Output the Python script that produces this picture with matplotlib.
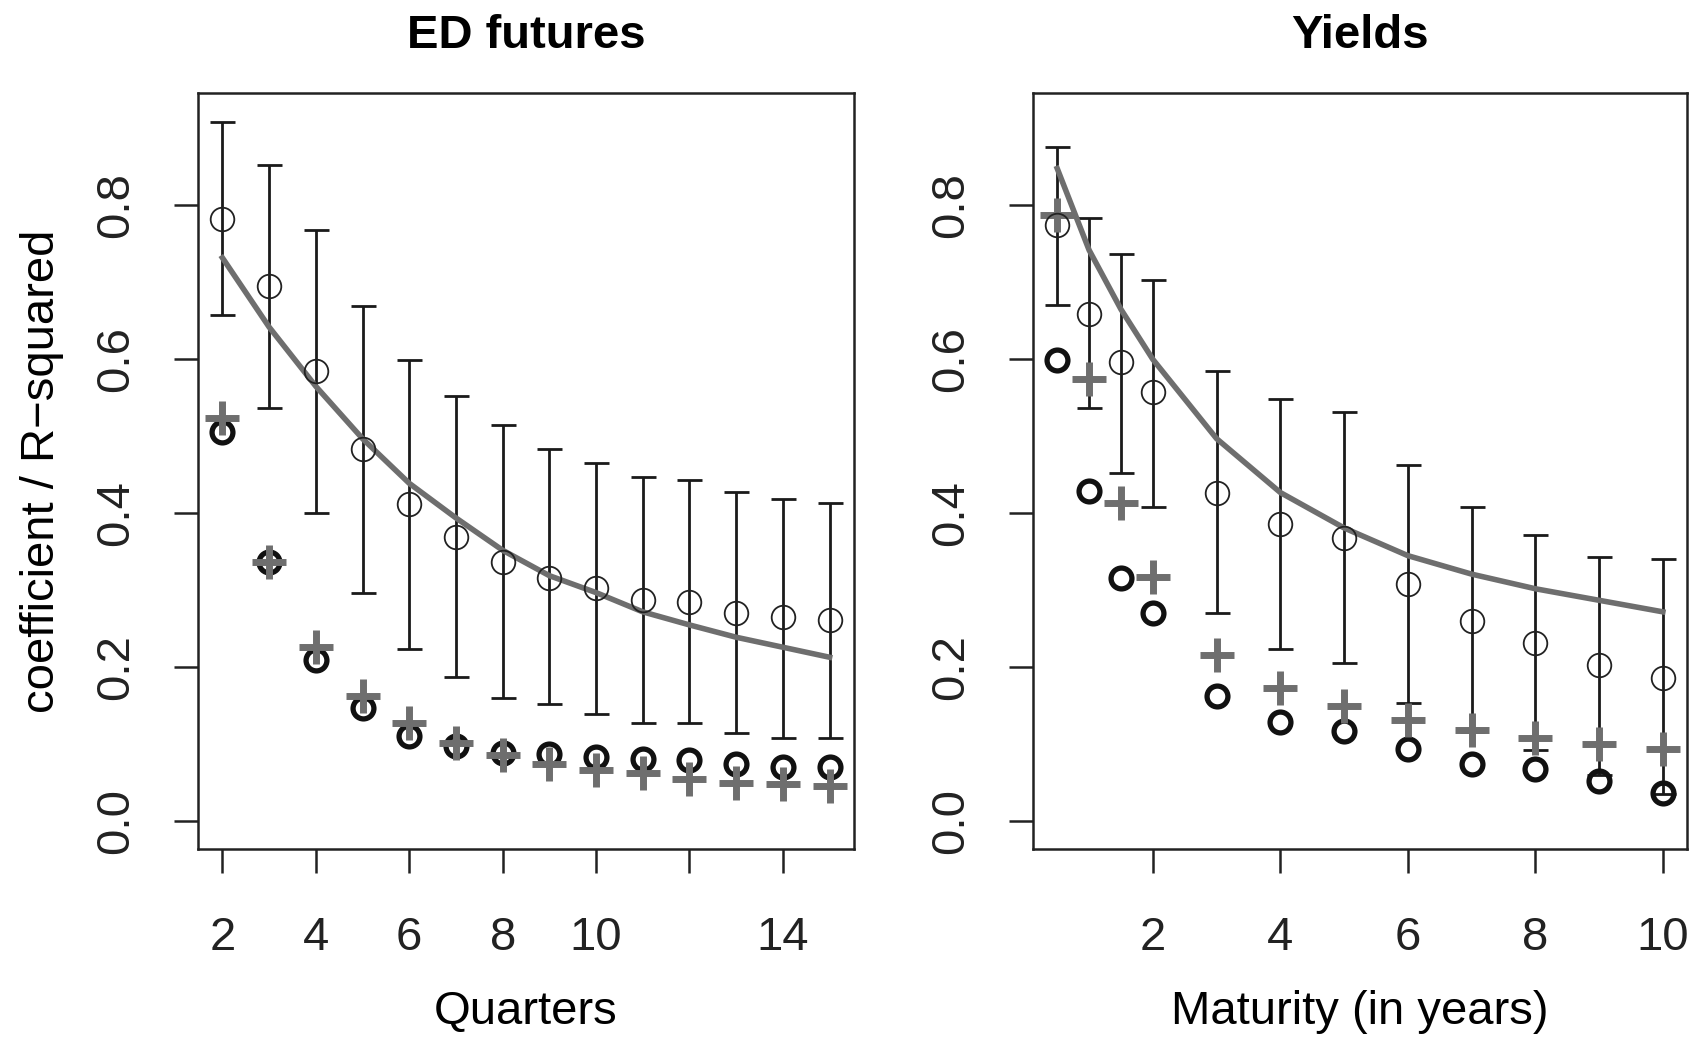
import matplotlib
matplotlib.use("Agg")
import matplotlib.pyplot as plt

plt.rcParams['font.family'] = ['Liberation Sans', 'DejaVu Sans']

# ED futures panel (x = quarters)
quarters = [2, 3, 4, 5, 6, 7, 8, 9, 10, 11, 12, 13, 14, 15]
ed_coef = [0.783, 0.695, 0.585, 0.484, 0.412, 0.369, 0.337, 0.316, 0.303, 0.287, 0.285, 0.271, 0.265, 0.261]
ed_upper = [0.908, 0.852, 0.768, 0.669, 0.599, 0.552, 0.515, 0.484, 0.465, 0.447, 0.443, 0.428, 0.419, 0.414]
ed_lower = [0.658, 0.537, 0.400, 0.297, 0.224, 0.187, 0.160, 0.152, 0.139, 0.127, 0.127, 0.115, 0.108, 0.108]
ed_fit = [0.732, 0.642, 0.565, 0.497, 0.439, 0.394, 0.352, 0.319, 0.297, 0.272, 0.255, 0.239, 0.226, 0.213]
ed_r2_circle = [0.506, 0.337, 0.210, 0.147, 0.111, 0.098, 0.089, 0.087, 0.083, 0.081, 0.079, 0.074, 0.071, 0.070]
ed_r2_plus = [0.524, 0.337, 0.226, 0.163, 0.127, 0.101, 0.086, 0.074, 0.066, 0.063, 0.055, 0.050, 0.048, 0.046]

# Yields panel (x = maturity in years)
maturity = [0.5, 1, 1.5, 2, 3, 4, 5, 6, 7, 8, 9, 10]
yl_coef = [0.774, 0.659, 0.597, 0.557, 0.427, 0.386, 0.368, 0.308, 0.260, 0.231, 0.203, 0.186]
yl_upper = [0.876, 0.784, 0.737, 0.703, 0.585, 0.548, 0.532, 0.463, 0.408, 0.372, 0.343, 0.341]
yl_lower = [0.671, 0.537, 0.453, 0.408, 0.270, 0.224, 0.205, 0.154, 0.116, 0.092, 0.060, 0.036]
yl_fit = [0.848, 0.742, 0.665, 0.600, 0.497, 0.427, 0.381, 0.345, 0.321, 0.302, 0.287, 0.272]
yl_r2_circle = [0.599, 0.429, 0.316, 0.271, 0.163, 0.129, 0.117, 0.094, 0.074, 0.068, 0.052, 0.037]
yl_r2_plus = [0.787, 0.575, 0.414, 0.317, 0.216, 0.173, 0.150, 0.132, 0.119, 0.108, 0.100, 0.094]

GRAY = '#6e6e6e'
FS = 34

fig = plt.figure(figsize=(16.99, 10.42), dpi=100)
ax1 = fig.add_axes([0.1166, 0.185, 0.386, 0.726])
ax2 = fig.add_axes([0.608, 0.185, 0.385, 0.726])


def draw_panel(ax, x, coef, upper, lower, fit, r2c, r2p):
    ax.errorbar(x, coef, yerr=[[c - l for c, l in zip(coef, lower)],
                               [u - c for u, c in zip(upper, coef)]],
                fmt='none', ecolor='#1a1a1a', elinewidth=2.0, capsize=9, capthick=2.0, zorder=2)
    ax.plot(x, fit, '-', color=GRAY, lw=4.0, zorder=3)
    ax.plot(x, r2c, 'o', ms=15, mfc='none', mec='#111111', mew=3.8, zorder=4)
    ax.plot(x, r2p, '+', ms=25, mec=GRAY, mew=5.0, zorder=5)
    ax.plot(x, coef, 'o', ms=17, mfc='none', mec='#222222', mew=1.3, zorder=6)
    ax.set_ylim(-0.0364, 0.9464)
    ax.set_yticks([0.0, 0.2, 0.4, 0.6, 0.8])
    ax.set_yticklabels(['0.0', '0.2', '0.4', '0.6', '0.8'], rotation=90, va='center')
    ax.tick_params(direction='out', length=17, width=1.8, labelsize=FS, colors='#222222')
    ax.tick_params(axis='x', pad=31)
    ax.tick_params(axis='y', pad=26)
    for s in ax.spines.values():
        s.set_linewidth(1.8)
        s.set_color('#222222')


draw_panel(ax1, quarters, ed_coef, ed_upper, ed_lower, ed_fit, ed_r2_circle, ed_r2_plus)
ax1.set_xlim(1.48, 15.52)
ax1.set_xticks([2, 4, 6, 8, 10, 12, 14])
ax1.set_xticklabels(['2', '4', '6', '8', '10', '', '14'])
ax1.set_title('ED futures', fontsize=FS, fontweight='bold', pad=32)
ax1.set_xlabel('Quarters', fontsize=FS, labelpad=22)
ax1.set_ylabel('coefficient / R\u2212squared', fontsize=FS, labelpad=22)

draw_panel(ax2, maturity, yl_coef, yl_upper, yl_lower, yl_fit, yl_r2_circle, yl_r2_plus)
ax2.set_xlim(0.12, 10.38)
ax2.set_xticks([2, 4, 6, 8, 10])
ax2.set_title('Yields', fontsize=FS, fontweight='bold', pad=32)
ax2.set_xlabel('Maturity (in years)', fontsize=FS, labelpad=22)

fig.savefig('out.png', dpi=100)
